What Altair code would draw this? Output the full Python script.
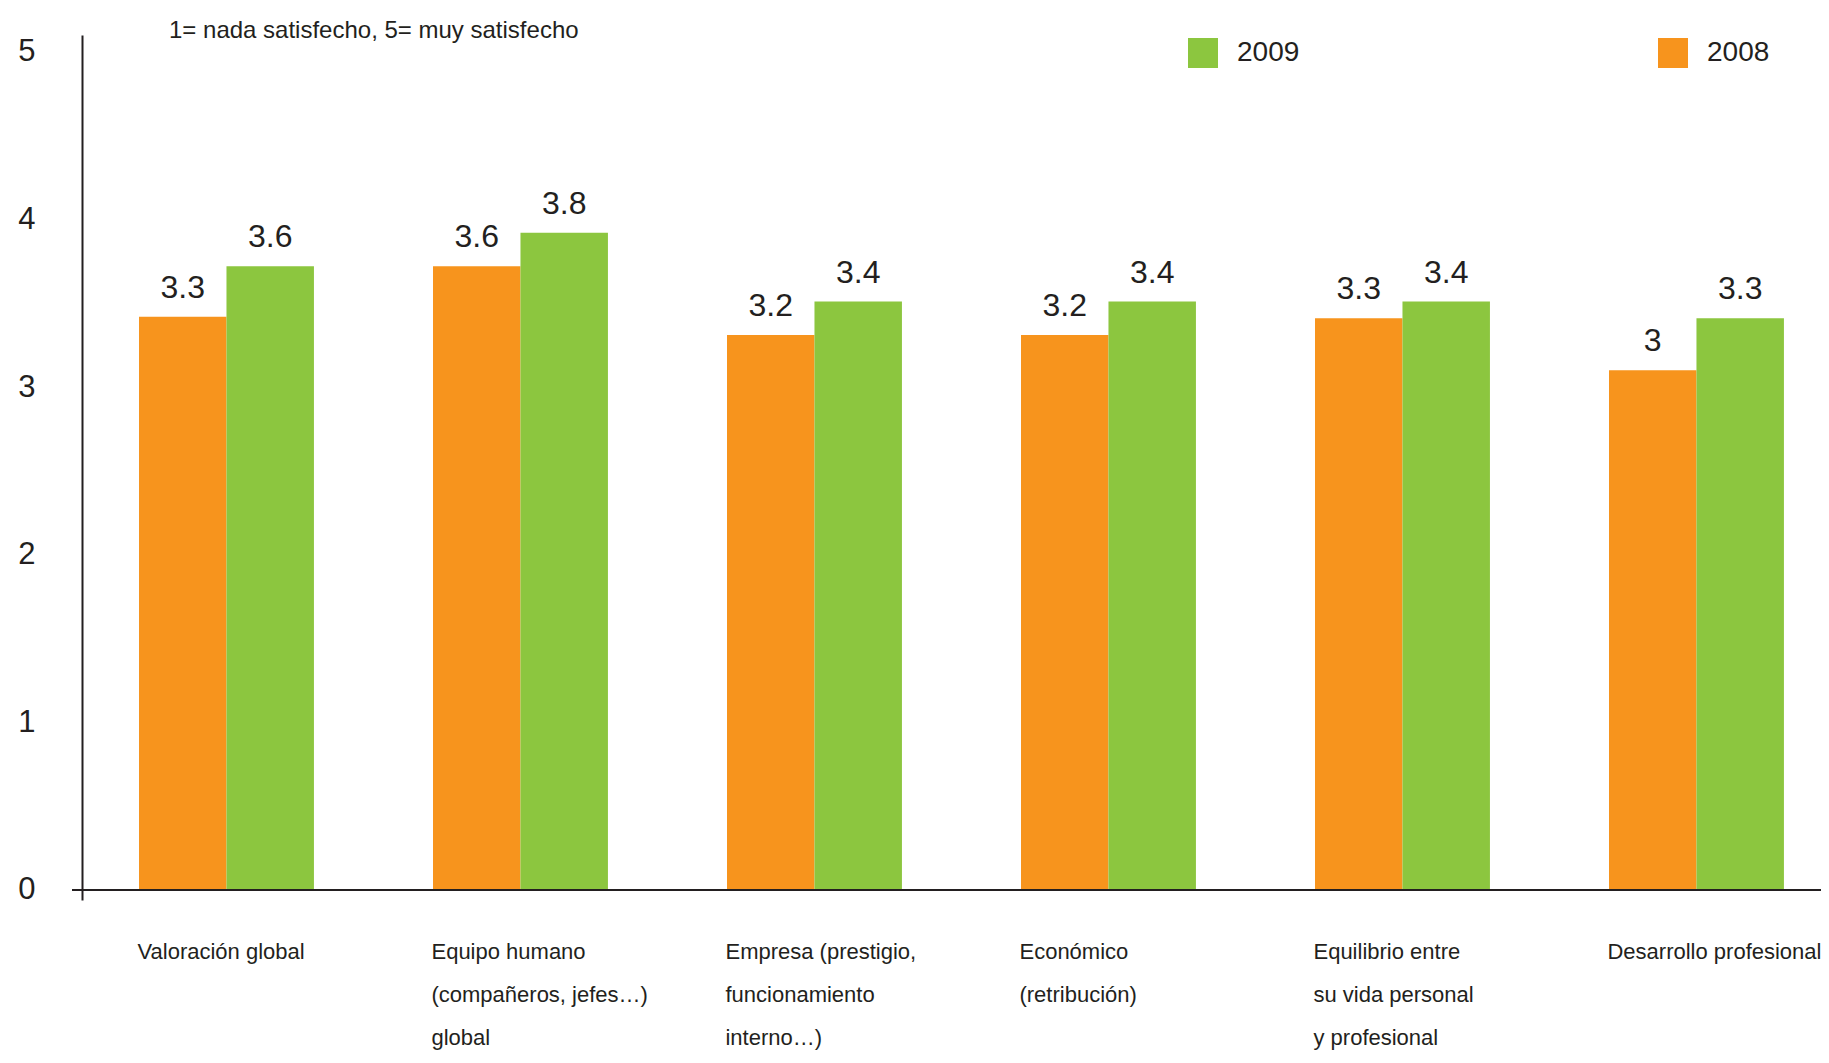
import altair as alt
import pandas as pd

categories = [
    "Valoración global",
    "Equipo humano|(compañeros, jefes…)|global",
    "Empresa (prestigio,|funcionamiento|interno…)",
    "Económico|(retribución)",
    "Equilibrio entre|su vida personal|y profesional",
    "Desarrollo profesional",
]
years = ["2008", "2009"]
values_2008 = [3.42, 3.72, 3.31, 3.31, 3.41, 3.10]
values_2009 = [3.72, 3.92, 3.51, 3.51, 3.51, 3.41]
labels_2008 = ["3.3", "3.6", "3.2", "3.2", "3.3", "3"]
labels_2009 = ["3.6", "3.8", "3.4", "3.4", "3.4", "3.3"]
colors = {"2009": "#8CC63F", "2008": "#F7941D"}
subtitle = "1= nada satisfecho, 5= muy satisfecho"

rows = []
for c, v8, v9, l8, l9 in zip(categories, values_2008, values_2009, labels_2008, labels_2009):
    rows.append({"cat": c, "year": "2008", "value": v8, "label": l8})
    rows.append({"cat": c, "year": "2009", "value": v9, "label": l9})
df = pd.DataFrame(rows)

FONT = "Liberation Sans"
TXT = "#231F20"
W, H = 1739, 865

x_enc = alt.X(
    "cat:N",
    sort=categories,
    scale=alt.Scale(paddingInner=0.405, paddingOuter=0.16, align=0.606),
    axis=alt.Axis(
        title=None, domain=False, ticks=False, labelOffset=-89,
        labelAlign="left", labelBaseline="top", labelPadding=41,
        labelFont=FONT, labelFontSize=22, labelColor=TXT, labelLineHeight=43,
        labelLimit=500, labelOverlap=False, labelBound=False,
        labelExpr="split(datum.label, '|')", labelAngle=0,
    ),
)
xo_enc = alt.XOffset("year:N", sort=years, scale=alt.Scale(paddingInner=0, paddingOuter=0))
y_scale = alt.Scale(domain=[-0.06, 5.10], nice=False, zero=False)

bars = alt.Chart(df).mark_bar(strokeWidth=0).encode(
    x=x_enc,
    xOffset=xo_enc,
    y=alt.Y(
        "value:Q", scale=y_scale,
        axis=alt.Axis(
            title=None, values=[0, 1, 2, 3, 4, 5], format="d", ticks=False, grid=False,
            domainColor=TXT, domainWidth=2, labelFont=FONT, labelFontSize=31,
            labelColor=TXT, labelPadding=47,
        ),
    ),
    y2=alt.datum(0),
    color=alt.Color(
        "year:N",
        scale=alt.Scale(domain=["2009", "2008"], range=[colors["2009"], colors["2008"]]),
        legend=alt.Legend(
            title=None, orient="none", legendX=1106, legendY=3, direction="horizontal",
            symbolType="square", symbolSize=900, symbolStrokeWidth=0, symbolOpacity=1,
            labelFont=FONT, labelFontSize=28, labelColor=TXT, labelOffset=19,
            columnPadding=358, padding=0,
        ),
    ),
)

text = alt.Chart(df).mark_text(
    baseline="middle", align="center", dy=-29, font=FONT, fontSize=32, color=TXT
).encode(
    x=alt.X("cat:N", sort=categories),
    xOffset=alt.XOffset("year:N", sort=years),
    y=alt.Y("value:Q"),
    text="label:N",
)

zero = alt.Chart(pd.DataFrame({"v": [0]})).mark_rule(color=TXT, strokeWidth=2).encode(
    y=alt.Y("v:Q"), x=alt.value(-10), x2=alt.value(W + 10)
)

sub = alt.Chart(pd.DataFrame({"t": [subtitle]})).mark_text(
    align="left", baseline="middle", font=FONT, fontSize=24, color=TXT
).encode(x=alt.value(87), y=alt.value(-4), text="t:N")

chart = alt.layer(bars, text, zero, sub).properties(
    width=W, height=H,
    autosize=alt.AutoSizeParams(type="none"),
    padding={"left": 74, "top": 27, "right": 0, "bottom": 153},
).configure_view(stroke=None)

chart.save("out.html", embed_options={"renderer": "svg", "actions": False})
